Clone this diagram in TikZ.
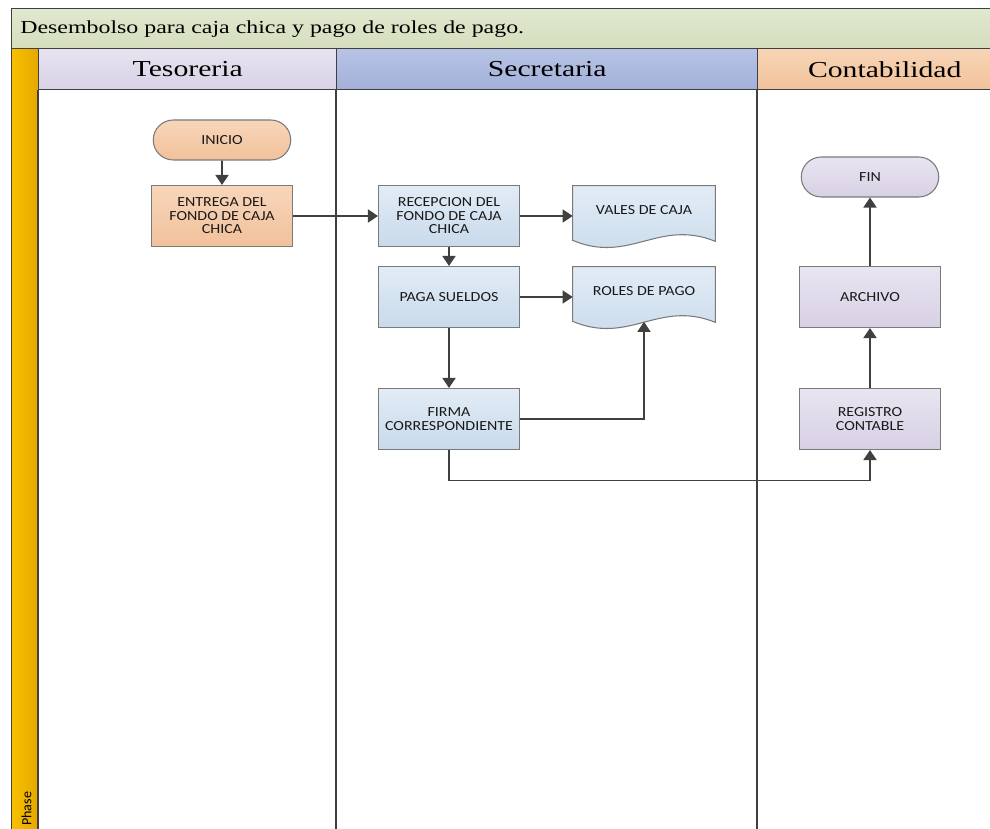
\documentclass[tikz,border=0pt]{standalone}
\usepackage{fontspec}
\setmainfont{Liberation Serif}[FakeStretch=1.3]
\newfontfamily\boxfont{Carlito}[FakeStretch=1.15]
\newfontfamily\phasefont{Carlito}
\usetikzlibrary{arrows.meta,positioning,calc,shapes.misc,backgrounds}

\definecolor{edge}{HTML}{404040}
\definecolor{boxline}{HTML}{7A7A7A}
\definecolor{titletop}{HTML}{E0E8CE}
\definecolor{titlebot}{HTML}{D5DEBE}
\definecolor{phaseleft}{HTML}{F9C000}
\definecolor{phaseright}{HTML}{E4A800}
\definecolor{tesotop}{HTML}{E7E3F0}
\definecolor{tesobot}{HTML}{D8D2E5}
\definecolor{secrtop}{HTML}{B8C4E5}
\definecolor{secrbot}{HTML}{A2B0D9}
\definecolor{conttop}{HTML}{F8D5B6}
\definecolor{contbot}{HTML}{F1C29A}
\definecolor{peachtop}{HTML}{F8D6BA}
\definecolor{peachbot}{HTML}{F1C19B}
\definecolor{bluetop}{HTML}{E2ECF6}
\definecolor{bluebot}{HTML}{C8DAEB}
\definecolor{lavtop}{HTML}{E9E5F1}
\definecolor{lavbot}{HTML}{D7D0E4}

\begin{document}
\begin{tikzpicture}[
  headbox/.style={draw=edge, line width=0.8pt, inner sep=0pt, anchor=north west,
                  minimum height=0.82cm, font=\fontsize{13}{15}\selectfont},
  lane/.style={draw=edge, line width=1pt},
  procbox/.style={rectangle, draw=boxline, line width=0.6pt, minimum width=2.82cm,
                  minimum height=1.22cm, inner sep=1pt, align=center,
                  font=\boxfont\fontsize{7.9}{7.7}\selectfont, text=black!90},
  termbox/.style={procbox, rounded rectangle, minimum height=0.8cm},
  docbox/.style={rectangle, minimum width=2.84cm, minimum height=0.96cm, inner sep=1pt,
                 align=center, font=\boxfont\fontsize{7.9}{7.7}\selectfont, text=black!90},
  docline/.style={draw=boxline, line width=0.6pt, top color=bluetop, bottom color=bluebot},
  peach/.style={top color=peachtop, bottom color=peachbot},
  blue/.style={top color=bluetop, bottom color=bluebot},
  lav/.style={top color=lavtop, bottom color=lavbot},
  arrow/.style={-{Triangle[length=2mm,width=2.6mm]}, draw=edge, line width=1pt}
]
\useasboundingbox (0,0) rectangle (19.8,-16.58);

% Title bar
\node[draw=edge, line width=0.8pt, top color=titletop, bottom color=titlebot,
      minimum width=20cm, minimum height=0.8cm, inner sep=0pt, anchor=north west] (title) at (0.22,-0.16) {};
\node[anchor=west, inner sep=0pt, font=\fontsize{10.45}{12}\selectfont] (titletxt) at ($(title.west)+(0.18,0)$)
{Desembolso para caja chica y pago de roles de pago.};

% Phase strip
\node[draw=edge, line width=0.8pt, left color=phaseleft, right color=phaseright,
      minimum width=0.54cm, minimum height=15.9cm, inner sep=0pt, anchor=north west] (phase) at (0.22,-0.96) {};
\node[rotate=90, anchor=west, inner sep=0pt, font=\phasefont\fontsize{8}{9}\selectfont] (phasetxt) at (0.53,-16.52) {Phase};

% Lane headers
\node[headbox, top color=tesotop, bottom color=tesobot, minimum width=5.96cm] (hteso) at (0.76,-0.96) {Tesoreria};
\node[headbox, top color=secrtop, bottom color=secrbot, minimum width=8.42cm] (hsecr) at (6.72,-0.96) {Secretaria};
\node[headbox, top color=conttop, bottom color=contbot, minimum width=5.08cm] (hcont) at (15.14,-0.96) {Contabilidad};

% Lane separators
\draw[lane] (hteso.south west) -- ++(0,-15.1);
\draw[lane] (hsecr.south west) -- ++(0,-15.1);
\draw[lane] (hcont.south west) -- ++(0,-15.1);

% Tesoreria
\node[termbox, peach] (inicio) at (4.44,-2.80) {INICIO};
\node[procbox, peach] (entrega) at (4.44,-4.32) {ENTREGA DEL\\FONDO DE CAJA\\CHICA};

% Secretaria
\node[procbox, blue] (recepcion) at (8.98,-4.32) {RECEPCION DEL\\FONDO DE CAJA\\CHICA};
\node[procbox, blue] (paga) at (8.98,-5.94) {PAGA SUELDOS};
\node[procbox, blue] (firma) at (8.98,-8.38) {FIRMA\\CORRESPONDIENTE};
\node[docbox] (vales) at (12.88,-4.20) {VALES DE CAJA};
\node[docbox] (roles) at (12.88,-5.82) {ROLES DE PAGO};

% Document outlines with wavy lower edge
\begin{pgfonlayer}{background}
\foreach \d in {vales,roles}
  \draw[docline] (\d.north west) -- (\d.north east) -- ($(\d.south east)+(0,-0.14)$)
    .. controls ($(\d.south west)!0.6!(\d.south east)+(0,0.32)$)
       and ($(\d.south west)!0.4!(\d.south east)+(0,-0.6)$) .. ($(\d.south west)+(0,-0.12)$) -- cycle;
\end{pgfonlayer}
\coordinate (roleswave) at ($(roles.south)+(0,-0.13)$);

% Contabilidad
\node[termbox, lav] (fin) at (17.40,-3.54) {FIN};
\node[procbox, lav] (archivo) at (17.40,-5.94) {ARCHIVO};
\node[procbox, lav] (registro) at (17.40,-8.38) {REGISTRO\\CONTABLE};

% Flow
\draw[arrow] (inicio) -- (entrega);
\draw[arrow] (entrega) -- (recepcion);
\draw[arrow] (recepcion.east) -- (recepcion.east -| vales.west);
\draw[arrow] (recepcion) -- (paga);
\draw[arrow] (paga.east) -- (paga.east -| roles.west);
\draw[arrow] (paga) -- (firma);
\draw[arrow] (firma.east) -| (roleswave);
\draw[arrow] (firma.south) -- ($(firma.south)+(0,-0.61)$) -| (registro.south);
\draw[arrow] (registro) -- (archivo);
\draw[arrow] (archivo) -- (fin);

\end{tikzpicture}
\end{document}
